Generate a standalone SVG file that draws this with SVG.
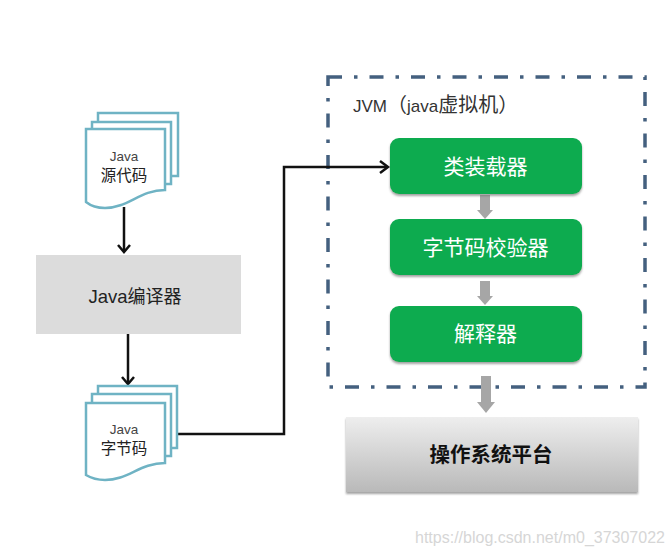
<svg xmlns="http://www.w3.org/2000/svg" width="672" height="555" viewBox="0 0 672 555">
<style>
.sans{font-family:"Liberation Sans","Noto Sans CJK SC",sans-serif}
.cjk{font-family:"Noto Sans CJK SC",sans-serif}
.doc{fill:#fff;stroke:#6fb3c4;stroke-width:2.5}
.g{fill:#0aab50}
.gt{font-family:"Noto Sans CJK SC",sans-serif;font-size:21px;fill:#fff;text-anchor:middle}
.wire{fill:none;stroke:#111;stroke-width:2.5}
.head{fill:none;stroke:#111;stroke-width:2.5}
.gray{fill:none;stroke:#a6a6a6;stroke-width:10}
.grayh{fill:#a6a6a6}
</style>
<defs>
<linearGradient id="os" x1="0" y1="0" x2="0" y2="1"><stop offset="0" stop-color="#eeeeee"/><stop offset="1" stop-color="#b9b9b9"/></linearGradient>
<filter id="sh" x="-5%" y="-10%" width="110%" height="125%"><feDropShadow dx="0" dy="2" stdDeviation="1.2" flood-color="#666" flood-opacity=".6"/></filter>
</defs>
<rect width="672" height="555" fill="#fff"/>
<g id="jvm">
<rect x="328" y="77" width="317" height="310" fill="none" stroke="#44607f" stroke-width="3.5" stroke-dasharray="14 12 3.5 12"/>
<text class="sans" x="353" y="112" font-size="17" fill="#333">JVM<tspan class="cjk" font-size="20">（</tspan>java<tspan class="cjk" font-size="20">虚拟机）</tspan></text>
</g>
<g id="connectors">
<path class="wire" d="M124 207V251"/><path class="head" d="M118 245L124 252L130 245"/>
<path class="wire" d="M128 334V383"/><path class="head" d="M122 377L128 384L134 377"/>
<path class="wire" d="M177 434H284V167H386"/><path class="head" d="M380 161L388 167L380 173"/>
<path class="gray" d="M485 195V211"/><path class="grayh" d="M477 210H493L485 219Z"/>
<path class="gray" d="M485 281V297"/><path class="grayh" d="M477 296H493L485 305Z"/>
<path class="gray" d="M486 376V403"/><path class="grayh" d="M477 402H495L486 413Z"/>
</g>
<g id="source-doc">
<path class="doc" d="M98 113H178V176H98Z"/>
<path class="doc" d="M92 122H171V184H92Z"/>
<path class="doc" d="M86 129H165V190C140 190 128 208 105 208C97 208 91 206 86 202Z"/>
<text class="sans" x="124" y="161" font-size="13.5" fill="#444" text-anchor="middle">Java</text>
<text class="cjk" x="124" y="181" font-size="15.5" fill="#222" text-anchor="middle">源代码</text>
</g>
<g id="compiler">
<rect x="36" y="255" width="205" height="79" fill="#dcdcdc"/>
<text x="135" y="303" font-size="18.5" fill="#222" text-anchor="middle" class="sans">Java<tspan class="cjk" font-size="18">编译器</tspan></text>
</g>
<g id="bytecode-doc">
<path class="doc" d="M98 386H177V448H98Z"/>
<path class="doc" d="M92 394H171V456H92Z"/>
<path class="doc" d="M86 403H165V463C140 463 128 480 105 480C97 480 91 478 86 475Z"/>
<text class="sans" x="124" y="434" font-size="13.5" fill="#444" text-anchor="middle">Java</text>
<text class="cjk" x="124" y="454" font-size="15.5" fill="#222" text-anchor="middle">字节码</text>
</g>
<g id="loader"><rect class="g" x="390" y="138" width="192" height="56" rx="9" filter="url(#sh)"/><text class="gt" x="485.500" y="174">类装载器</text></g>
<g id="verifier"><rect class="g" x="390" y="219" width="192" height="56" rx="9" filter="url(#sh)"/><text class="gt" x="485.500" y="255">字节码校验器</text></g>
<g id="interpreter"><rect class="g" x="390" y="306" width="192" height="56" rx="9" filter="url(#sh)"/><text class="gt" x="485.500" y="341">解释器</text></g>
<g id="os-platform"><rect x="346" y="417" width="292" height="75" fill="url(#os)" filter="url(#sh)"/><text class="cjk" x="491" y="462" font-size="20.500" font-weight="700" fill="#111" text-anchor="middle">操作系统平台</text></g>
<text class="sans" x="415" y="543" font-size="16" fill="#d6d6d6">https://blog.csdn.net/m0_37307022</text>
</svg>
